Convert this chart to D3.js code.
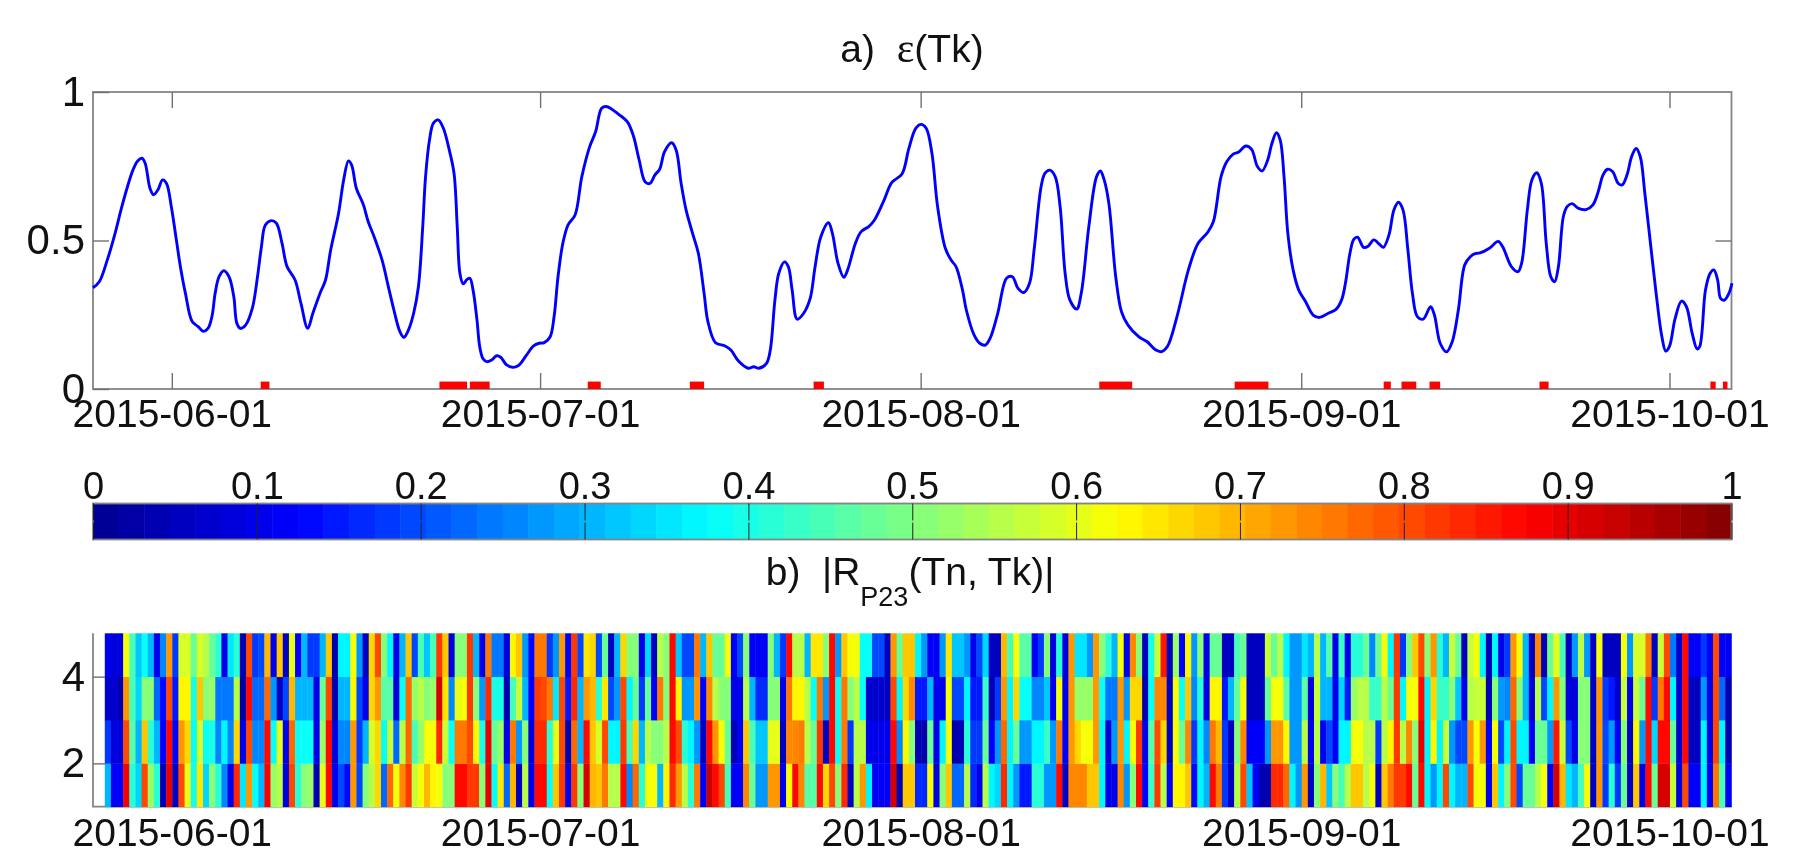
<!DOCTYPE html>
<meta charset="utf-8">
<style>

    html, body {
        margin: 0;
        background: #fff;
    }

    svg {
        filter: blur(0.6px);
    }

    text {
        font-family: "Liberation Sans", Arial, sans-serif;
        fill: #111;
    }

    .frame {
        fill: none;
        stroke: #848484;
        stroke-width: 1.8;
    }

    .axis path.domain {
        display: none;
    }

    .axis line {
        stroke: #707070;
        stroke-width: 1.4;
    }

    .axis text {
        font-size: 39px;
    }

    .y.axis text {
        font-size: 42px;
    }

    .cbar-axis text {
        font-size: 38px;
    }

    .cbar-axis line {
        stroke: #222;
        stroke-width: 1;
    }

    .title {
        font-size: 39px;
        white-space: pre;
    }

    .line {
        fill: none;
        stroke: #0000ff;
        stroke-width: 2.9;
        stroke-linejoin: round;
    }

    .event {
        fill: #ff0000;
    }

</style>
<body>
<script src="https://cdn.jsdelivr.net/npm/d3@7"></script>
<script>

    // days counted from 2015-06-01
    var lineDays = [
        -6.42,-5.91,-5.26,-4.62,-4.14,-3.65,-3.17,-2.78,-2.43,-2.17,-1.78,-1.49,-1.14,-0.75,-0.43,-0.04,0.37,0.70,1.11,1.66,
        2.15,2.56,2.95,3.27,3.53,3.85,4.24,4.66,5.05,5.30,5.59,6.01,6.56,6.98,7.30,7.62,8.11,8.52,8.98,9.39,
        10.04,10.52,11.07,11.49,12.13,12.52,12.94,13.58,14.00,14.39,14.65,15.03,15.61,16.00,16.48,17.13,17.61,18.09,18.58,18.90,
        19.28,19.70,20.09,20.44,20.67,20.99,21.31,21.70,22.12,22.60,22.99,23.25,23.47,23.73,24.05,24.28,24.54,24.86,25.08,25.34,
        25.66,26.05,26.47,26.79,27.27,27.76,28.24,28.89,29.47,29.92,30.34,30.82,31.14,31.46,31.85,32.27,32.85,33.40,34.04,34.52,
        35.01,35.39,35.81,36.46,37.10,37.58,38.07,38.55,38.94,39.36,39.74,
        40.14,40.71,41.08,41.49,41.89,42.42,42.89,43.36,43.67,44.29,45.07,45.54,46.16,46.94,47.41,47.82,48.44,48.75,49.13,49.44,
        49.91,50.22,50.53,50.94,51.47,52.00,52.40,52.87,53.49,53.81,54.27,54.74,55.05,55.68,56.15,56.77,57.24,58.02,58.64,59.48,
        60.04,60.61,61.04,61.45,61.92,62.38,63.01,63.48,63.88,64.41,64.72,65.35,65.81,66.28,66.66,67.28,68.00,68.47,68.93,69.40,
        69.87,70.24,70.81,71.12,71.52,71.96,72.36,72.77,73.15,73.71,74.08,74.70,75.33,75.64,75.95,76.33,76.89,77.36,77.89,78.76,
        79.45,80.16,80.63,81.10,81.88,82.81,83.59,84.37,84.84,85.47,85.93,86.46,86.87,87.49,87.96,88.43,
        88.81,89.27,89.58,89.98,90.29,90.60,90.91,91.34,91.80,92.36,92.97,93.50,94.21,94.83,95.29,95.60,95.97,96.28,96.59,97.08,
        97.45,97.91,98.38,98.69,99.15,99.55,99.92,100.29,100.69,101.06,101.46,101.93,102.54,102.85,103.32,103.84,104.30,104.80,105.32,105.79,
        106.16,106.56,107.33,108.04,108.41,109.12,109.65,109.95,110.42,110.79,111.19,111.56,111.96,112.33,112.64,112.95,113.35,113.66,114.06,114.59,
        115.20,115.76,116.19,116.59,116.96,117.36,117.83,118.14,118.54,118.91,119.28,119.62,119.99,120.45,120.91,121.38,121.69,121.99,122.46,122.98,
        123.38,123.85,124.25,124.46,124.93,125.30,125.61,125.92,126.16,126.47,126.84,127.09
    ];

    var lineValues = [
        .341,.361,.434,.524,.603,.676,.737,.768,.777,.760,.676,.654,.670,.704,.692,.614,.502,.412,.322,.227,
        .210,.194,.204,.244,.322,.378,.398,.378,.311,.221,.204,.215,.272,.378,.479,.552,.567,.558,.490,.412,
        .367,.288,.204,.255,.328,.367,.468,.591,.704,.768,.754,.676,.620,.563,.513,.434,.350,.266,.193,.174,
        .199,.255,.345,.547,.715,.838,.895,.906,.878,.805,.726,.547,.389,.354,.369,.373,.333,.232,.143,.103,
        .092,.098,.112,.107,.081,.073,.079,.114,.145,.154,.156,.176,.244,.378,.490,.552,.586,.715,.816,.866,
        .945,.951,.943,.923,.900,.855,.771,.698,.692,.721,.740,
        .799,.829,.805,.692,.603,.524,.457,.322,.227,.156,.145,.131,.094,.070,.075,.070,.086,.131,.300,.389,
        .428,.412,.333,.235,.255,.305,.412,.513,.560,.524,.423,.376,.401,.490,.530,.547,.569,.636,.695,.724,
        .810,.878,.891,.878,.793,.614,.474,.434,.412,.333,.266,.182,.154,.148,.171,.255,.373,.378,.339,.325,
        .356,.468,.681,.726,.737,.715,.614,.389,.300,.269,.322,.547,.715,.734,.704,.625,.378,.260,.215,.176,
        .159,.131,.126,.143,.244,.401,.490,.527,.563,.715,.765,.791,.797,.818,.807,.749,
        .734,.771,.822,.863,.838,.715,.524,.401,.333,.294,.249,.241,.255,.268,.300,.356,.457,.504,.511,.477,
        .481,.502,.487,.477,.519,.603,.629,.603,.468,.322,.244,.235,.277,.249,.154,.125,.159,.266,.418,.446,
        .456,.458,.474,.497,.479,.412,.395,.423,.603,.704,.728,.692,.490,.378,.361,.412,.580,.614,.624,.608,
        .604,.620,.664,.721,.740,.732,.692,.687,.721,.782,.810,.782,.659,.490,.322,.176,.128,.143,.238,.296,
        .277,.187,.135,.143,.333,.389,.401,.367,.305,.299,.322,.356
    ];

    var eventStarts = [7.24,21.80,24.28,33.88,42.20,52.28,75.55,86.58,98.72,100.17,102.45,111.41,125.33,126.35];
    var eventEnds   = [7.95,24.05,25.89,34.94,43.36,53.12,78.23,89.33,99.30,101.37,103.32,112.15,125.76,126.72];
    var eventLevel = 0.025;

    var dateLabels = ["2015-06-01", "2015-07-01", "2015-08-01", "2015-09-01", "2015-10-01"];
    var yTicksA = [0, 0.5, 1];
    var yLabelsA = ["0", "0.5", "1"];
    var yTicksB = [2, 4];
    var cbarTicks = [0, 0.1, 0.2, 0.3, 0.4, 0.5, 0.6, 0.7, 0.8, 0.9, 1];
    var cbarLabels = ["0", "0.1", "0.2", "0.3", "0.4", "0.5", "0.6", "0.7", "0.8", "0.9", "1"];

    // heat map: half day columns, first one starts here (days from 2015-06-01)
    var heatStartDay = -5.46;
    var heatStepDays = 0.5;

    var rowN1 = [
        .30,.12,.12,.88,.42,.33,.80,.53,.42,.04,.90,.05,.80,.60,.40,.65,.33,.50,.42,.25,.10,.83,.35,.72,.38,.30,.88,.52,.55,.08,.80,.42,.50,.52,.04,.60,.86,.10,.20,.13,.72,.20,
        .50,.55,.67,.22,.77,.62,.74,.82,.57,.62,.70,.63,.62,.50,.50,.87,.87,.82,.82,.50,.90,.38,.65,.22,.70,.05,.55,.10,.87,.87,.38,.68,.82,.10,.82,.50,.92,.70,.68,.75,.55,.55,.87,.25,.78,.42,.62,.62,.30,
        .63,.83,.72,.56,.42,.75,.12,.93,.87,.80,.44,.12,.12,.74,.48,.28,.28,.72,.72,.10,.62,.87,.74,.46,.46,.87,.67,.80,.50,.83,.05,.56,.72,.36,.11,.11,.11,.92,.04,.68,.68,.17,.17,.62,.08,.50,.68,.22,.22,
        .55,.16,.10,.55,.36,.34,.84,.36,.27,.15,.15,.42,.42,.28,.28,.87,.05,.74,.74,.74,.68,.68,.36,.10,.10,.74,.28,.50,.87,.12,.43,.82,.55,.12,.63,.63,.68,.13,.36,.30,.87,.76,.18,.05,.56,.80,.32,.12,.04,
        .04,.83,.83,.77,.36,.27,.72,.05,.50,.70,.32,.50,.45,.55,.68,.68,.56,.62,.05,.68,.76,.82,.82,.87,.47,.87,.36,.27,.36,.80,.36,.30,.30,.80,.62,.62,.10,.68,.36,.50,.80,.20,.48,.48,.56,.62,.12,.92,.70,
        .35,.30,.45,.62,.06,.72,.18,.42,.18,.47,.05,.68,.10,.87,.47,.92,.92,.57,.08,.80,.11,.11,.36,.11,.75,.45,.11
    ];

    var rowN2 = [
        .18,.09,.09,.80,.46,.30,.68,.42,.30,.12,.87,.12,.72,.67,.38,.58,.38,.40,.25,.36,.25,.66,.10,.80,.26,.26,.86,.38,.60,.10,.78,.38,.38,.38,.10,.52,.87,.08,.25,.25,.72,.18,
        .30,.58,.66,.38,.57,.22,.55,.78,.45,.52,.62,.62,.83,.57,.38,.76,.76,.80,.63,.40,.90,.48,.53,.10,.75,.27,.50,.08,.84,.84,.42,.60,.80,.04,.78,.30,.87,.68,.58,.80,.37,.37,.82,.45,.66,.30,.55,.50,.50,
        .55,.87,.80,.42,.37,.28,.05,.87,.72,.62,.47,.04,.12,.68,.45,.32,.32,.60,.60,.05,.74,.74,.76,.56,.47,.82,.05,.87,.38,.75,.18,.56,.56,.10,.10,.10,.10,.87,.25,.63,.50,.04,.04,.47,.10,.36,.62,.04,.04,
        .42,.18,.18,.48,.11,.28,.78,.37,.47,.28,.28,.36,.36,.43,.28,.75,.11,.73,.67,.62,.62,.72,.37,.08,.27,.72,.36,.62,.82,.10,.46,.80,.67,.05,.62,.48,.74,.18,.36,.26,.75,.70,.18,.05,.50,.74,.12,.12,.12,
        .27,.72,.72,.63,.28,.28,.56,.10,.56,.12,.20,.11,.36,.36,.62,.62,.56,.56,.18,.56,.63,.82,.56,.74,.50,.90,.36,.63,.36,.57,.28,.20,.20,.73,.62,.72,.11,.62,.20,.36,.80,.37,.37,.11,.48,.48,.28,.85,.57,
        .20,.10,.50,.50,.05,.72,.20,.28,.12,.50,.05,.63,.28,.87,.33,.87,.87,.47,.07,.87,.05,.05,.37,.10,.80,.36,.04
    ];

    var rowN3 = [
        .07,.07,.04,.72,.44,.33,.50,.50,.22,.13,.80,.15,.63,.63,.40,.68,.50,.52,.24,.24,.24,.56,.03,.86,.23,.23,.78,.28,.05,.20,.70,.30,.30,.30,.10,.47,.80,.04,.30,.30,.63,.20,
        .10,.67,.72,.46,.46,.08,.38,.77,.52,.56,.50,.52,.92,.65,.26,.60,.62,.82,.50,.27,.84,.40,.40,.04,.45,.57,.30,.12,.82,.80,.76,.35,.80,.15,.84,.30,.73,.70,.42,.65,.20,.28,.80,.36,.47,.18,.48,.12,.75,
        .50,.87,.63,.28,.28,.72,.12,.74,.56,.50,.50,.10,.10,.55,.30,.17,.17,.50,.50,.10,.75,.64,.64,.56,.38,.75,.28,.87,.38,.75,.50,.56,.38,.07,.07,.07,.05,.80,.36,.67,.74,.15,.15,.30,.10,.10,.62,.20,.20,
        .36,.15,.15,.43,.04,.18,.73,.36,.67,.38,.38,.25,.25,.32,.10,.62,.10,.73,.52,.52,.52,.72,.38,.24,.24,.72,.27,.66,.66,.04,.38,.74,.74,.05,.62,.38,.68,.25,.42,.10,.63,.63,.15,.30,.48,.62,.05,.05,.05,
        .48,.62,.62,.46,.27,.27,.46,.08,.57,.30,.30,.10,.34,.15,.52,.56,.56,.43,.43,.56,.47,.82,.36,.62,.62,.87,.36,.67,.43,.43,.50,.32,.10,.55,.57,.57,.04,.50,.28,.25,.78,.50,.30,.08,.56,.20,.36,.72,.50,
        .08,.08,.50,.50,.05,.72,.18,.15,.07,.57,.10,.57,.47,.87,.18,.75,.87,.36,.07,.87,.05,.05,.28,.10,.80,.22,.04
    ];

    var rowN4 = [
        .10,.08,.08,.62,.45,.32,.38,.30,.10,.25,.72,.18,.58,.58,.47,.58,.55,.47,.42,.10,.35,.42,.04,.80,.18,.20,.70,.10,.68,.05,.60,.12,.30,.18,.18,.30,.68,.04,.36,.36,.62,.28,
        .05,.66,.80,.50,.36,.10,.30,.68,.20,.45,.32,.45,.82,.68,.08,.50,.50,.82,.30,.10,.75,.24,.24,.08,.63,.68,.27,.13,.75,.75,.18,.27,.72,.12,.82,.20,.65,.67,.20,.48,.06,.30,.67,.50,.50,.10,.33,.05,.55,
        .50,.87,.32,.20,.20,.75,.30,.68,.47,.47,.62,.12,.20,.50,.11,.11,.11,.50,.30,.18,.87,.56,.56,.30,.65,.65,.50,.87,.28,.68,.62,.62,.38,.38,.20,.20,.05,.72,.48,.68,.68,.36,.28,.11,.11,.28,.65,.32,.32,
        .28,.10,.20,.34,.06,.06,.70,.44,.62,.46,.46,.12,.18,.50,.08,.42,.08,.73,.35,.35,.28,.72,.50,.42,.30,.62,.10,.74,.50,.05,.40,.57,.85,.05,.52,.12,.63,.28,.50,.10,.47,.47,.06,.06,.45,.47,.05,.05,.05,
        .57,.48,.56,.36,.27,.27,.35,.30,.56,.30,.46,.10,.43,.10,.42,.42,.47,.25,.47,.62,.36,.82,.18,.50,.68,.80,.50,.73,.42,.30,.57,.47,.05,.57,.62,.36,.04,.36,.10,.18,.72,.62,.30,.05,.74,.04,.47,.60,.44,
        .05,.28,.56,.28,.05,.62,.05,.05,.05,.62,.28,.58,.58,.75,.05,.57,.80,.24,.07,.87,.11,.11,.18,.11,.80,.11,.11
    ];

    var heatRows = [rowN1, rowN2, rowN3, rowN4];

    var width = 1814,
        height = 853;

    var left = 93,
        right = 1731.5;

    var day0 = Date.UTC(2015, 5, 1);

    function toDate(d) {
        return new Date(day0 + d * 864e5);
    }

    var tickDates = dateLabels.map(function(s) { return new Date(s + "T00:00:00Z"); });

    var x = d3.scaleUtc()
            .domain([toDate(-6.42), toDate(127.05)])
            .range([left, right]);

    var y = d3.scaleLinear()
            .domain([0, 1])
            .range([389, 92]);

    var yHeat = d3.scaleLinear()
            .domain([1, 5])
            .range([806.7, 633.3]);

    var xBar = d3.scaleLinear()
            .domain([0, 1])
            .range([left, right]);

    // jet colormap, 64 flat levels like matlab
    var jetRamp = d3.scaleLinear()
            .domain([0, 0.125, 0.375, 0.625, 0.875, 1])
            .range(["#00008f", "#0000ff", "#00ffff", "#ffff00", "#ff0000", "#800000"]);

    var levels = d3.range(64);

    function jet(v) {
        var level = Math.min(63, Math.floor(v * 64));
        return jetRamp((level + 0.5) / 64);
    }

    var dateFormat = d3.utcFormat("%Y-%m-%d");

    var svg = d3.select("body").append("svg")
            .attr("width", width)
            .attr("height", height)
            .style("display", "block");

    // panel a
    svg.append("rect")
            .attr("class", "frame")
            .attr("x", left)
            .attr("y", y(1))
            .attr("width", right - left)
            .attr("height", y(0) - y(1));

    svg.append("g")
            .attr("class", "x axis")
            .attr("transform", "translate(0," + y(0) + ")")
            .call(d3.axisBottom(x).tickValues(tickDates).tickFormat(dateFormat).tickSize(-16).tickPadding(10));

    svg.append("g")
            .attr("class", "x axis")
            .attr("transform", "translate(0," + y(1) + ")")
            .call(d3.axisTop(x).tickValues(tickDates).tickFormat("").tickSize(-16));

    svg.append("g")
            .attr("class", "y axis")
            .attr("transform", "translate(" + left + ",0)")
            .call(d3.axisLeft(y).tickValues(yTicksA).tickFormat(function(d, i) { return yLabelsA[i]; }).tickSize(-16).tickPadding(8));

    svg.append("g")
            .attr("class", "y axis")
            .attr("transform", "translate(" + right + ",0)")
            .call(d3.axisRight(y).tickValues([0.5]).tickFormat("").tickSize(-16));

    svg.selectAll("rect.event")
            .data(eventStarts)
            .enter().append("rect")
            .attr("class", "event")
            .attr("x", function(d) { return x(toDate(d)); })
            .attr("y", y(eventLevel))
            .attr("width", function(d, i) { return x(toDate(eventEnds[i])) - x(toDate(d)); })
            .attr("height", y(0) - y(eventLevel));

    var line = d3.line()
            .x(function(d, i) { return x(toDate(lineDays[i])); })
            .y(function(d) { return y(d); })
            .curve(d3.curveCatmullRom.alpha(0.5));

    svg.append("path")
            .datum(lineValues)
            .attr("class", "line")
            .attr("d", line);

    var titleA = svg.append("text")
            .attr("class", "title")
            .attr("x", 912)
            .attr("y", 62)
            .attr("text-anchor", "middle");

    titleA.append("tspan").text("a)  ");
    titleA.append("tspan").style("font-family", "'Liberation Serif'").style("font-size", "42px").text("ε");
    titleA.append("tspan").text("(Tk)");

    // colorbar
    var barTop = 503.5,
        barBottom = 539.5;

    svg.selectAll("rect.level")
            .data(levels)
            .enter().append("rect")
            .attr("class", "level")
            .attr("x", function(d) { return xBar(d / 64); })
            .attr("y", barTop)
            .attr("width", xBar(1 / 64) - xBar(0) + 0.5)
            .attr("height", barBottom - barTop)
            .attr("fill", function(d) { return jetRamp((d + 0.5) / 64); });

    svg.append("rect")
            .attr("class", "frame")
            .attr("x", left)
            .attr("y", barTop)
            .attr("width", right - left)
            .attr("height", barBottom - barTop);

    svg.append("g")
            .attr("class", "axis cbar-axis")
            .attr("transform", "translate(0," + barTop + ")")
            .call(d3.axisTop(xBar).tickValues(cbarTicks).tickFormat(function(d, i) { return cbarLabels[i]; }).tickSize(-17).tickPadding(5));

    svg.append("g")
            .attr("class", "axis cbar-axis")
            .attr("transform", "translate(0," + barBottom + ")")
            .call(d3.axisBottom(xBar).tickValues(cbarTicks).tickFormat("").tickSize(-17));

    // panel b
    var titleB = svg.append("text")
            .attr("class", "title")
            .attr("x", 910)
            .attr("y", 585)
            .attr("text-anchor", "middle");

    titleB.append("tspan").text("b)  |R");
    titleB.append("tspan").attr("dy", 21).style("font-size", "27px").text("P23");
    titleB.append("tspan").attr("dy", -21).text("(Tn, Tk)|");

    svg.append("path")
            .attr("class", "frame")
            .attr("d", "M" + left + "," + yHeat(5) + "V" + yHeat(1) + "H" + right);

    var rows = svg.selectAll("g.row")
            .data(heatRows)
            .enter().append("g")
            .attr("class", "row");

    rows.each(function(rowValues, r) {
        d3.select(this).selectAll("rect")
            .data(rowValues)
            .enter().append("rect")
            .attr("x", function(d, i) { return x(toDate(heatStartDay + i * heatStepDays)); })
            .attr("y", yHeat(r + 2))
            .attr("width", x(toDate(heatStepDays)) - x(toDate(0)) + 0.4)
            .attr("height", yHeat(r + 1) - yHeat(r + 2) + 0.4)
            .attr("fill", function(d) { return jet(d); });
    });

    svg.append("g")
            .attr("class", "x axis")
            .attr("transform", "translate(0," + yHeat(1) + ")")
            .call(d3.axisBottom(x).tickValues(tickDates).tickFormat(dateFormat).tickSize(0).tickPadding(12));

    svg.append("g")
            .attr("class", "y axis")
            .attr("transform", "translate(" + left + ",0)")
            .call(d3.axisLeft(yHeat).tickValues(yTicksB).tickFormat(d3.format("d")).tickSize(-12).tickPadding(8));

</script>
